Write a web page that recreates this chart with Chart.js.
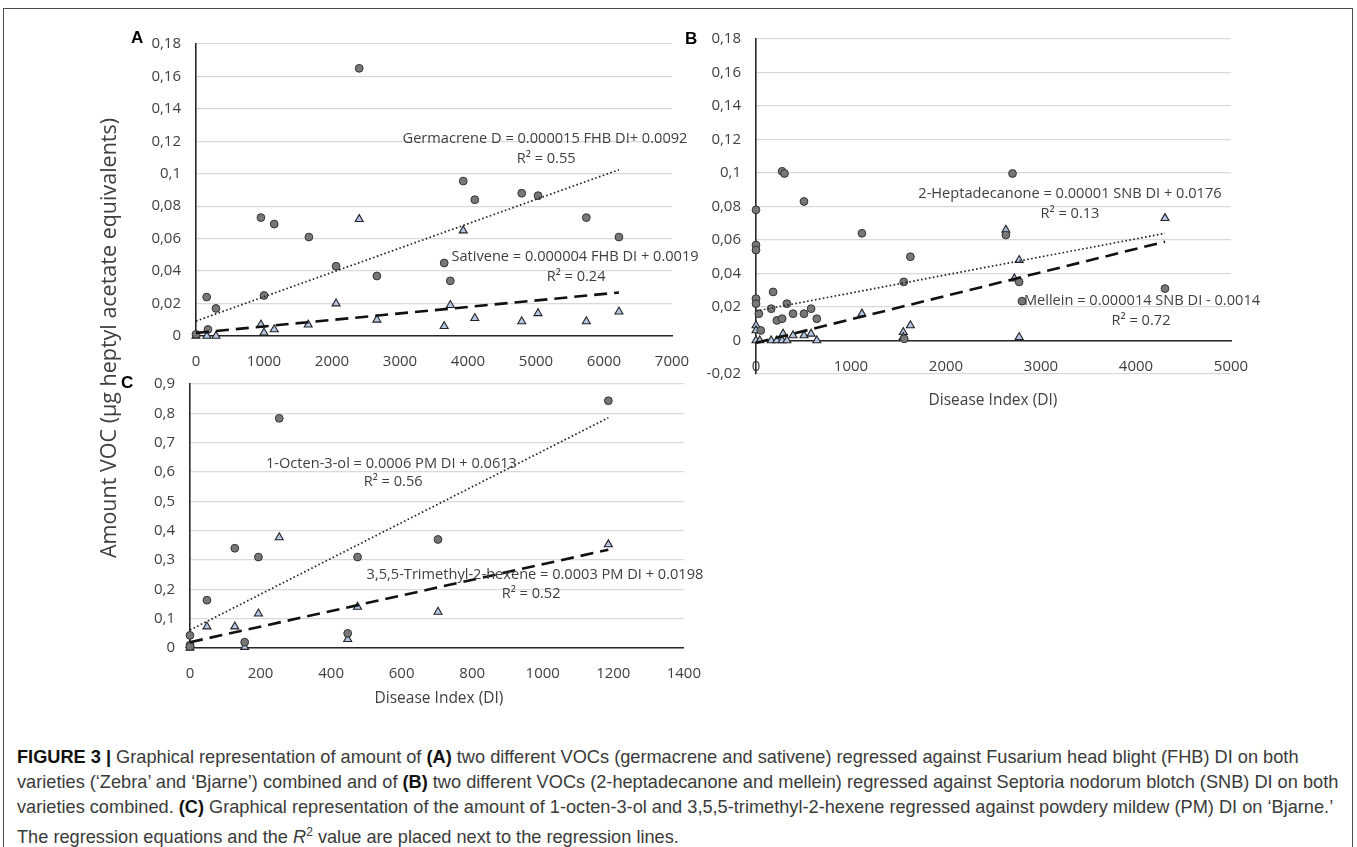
<!DOCTYPE html>
<html>
<head>
<meta charset="utf-8">
<script src="https://cdn.jsdelivr.net/npm/chart.js@4.4.0/dist/chart.umd.min.js"></script>
<style>
  body { margin: 0; width: 1357px; height: 847px; background: #fff; position: relative; overflow: hidden; }
  .frame { position: absolute; left: 3px; top: 8px; width: 1350px; height: 845px; border: 1.5px solid #4a4a4a; box-sizing: border-box; }
  canvas { position: absolute; }
  .panel { position: absolute; font: bold 17px "Liberation Sans", Arial, sans-serif; color: #000; line-height: 1; }
  .ytitle { position: absolute; left: 108px; top: 338px; transform: translate(-50%, -50%) rotate(-90deg);
            font: 21.5px "Open Sans", sans-serif; color: #404040; white-space: nowrap; line-height: 1; }
  .xtitle { position: absolute; transform: translate(-50%, -50%); font: 15.5px "Open Sans", sans-serif; color: #404040; white-space: nowrap; line-height: 1; }
  .cap { position: absolute; left: 17px; font: 18.2px "Liberation Sans", Arial, sans-serif; color: #3a3a3a; white-space: nowrap; line-height: 20px; }
  .cap b { color: #111; }
</style>
</head>
<body>
<div class="frame"></div>

<canvas id="chartA" width="600" height="370" style="left:120px; top:20px;"></canvas>
<canvas id="chartB" width="600" height="400" style="left:690px; top:15px;"></canvas>
<canvas id="chartC" width="600" height="330" style="left:110px; top:360px;"></canvas>

<div class="panel" style="left:131px; top:29px;">A</div>
<div class="panel" style="left:685px; top:30px;">B</div>
<div class="panel" style="left:121px; top:374px;">C</div>

<div class="ytitle">Amount VOC (µg heptyl acetate equivalents)</div>
<div class="xtitle" style="left:993px; top:400px;">Disease Index (DI)</div>
<div class="xtitle" style="left:439px; top:698px;">Disease Index (DI)</div>

<div class="cap" style="top:747px;"><b>FIGURE 3 |</b> Graphical representation of amount of <b>(A)</b> two different VOCs (germacrene and sativene) regressed against Fusarium head blight (FHB) DI on both</div>
<div class="cap" style="top:772px;">varieties (‘Zebra’ and ‘Bjarne’) combined and of <b>(B)</b> two different VOCs (2-heptadecanone and mellein) regressed against Septoria nodorum blotch (SNB) DI on both</div>
<div class="cap" style="top:797px;">varieties combined. <b>(C)</b> Graphical representation of the amount of 1-octen-3-ol and 3,5,5-trimethyl-2-hexene regressed against powdery mildew (PM) DI on ‘Bjarne.’</div>
<div class="cap" style="top:822px;">The regression equations and the <i>R</i><sup style="font-size:12px;">2</sup> value are placed next to the regression lines.</div>

<script>
// Panel A - Fusarium head blight (FHB)
const germX = [0, 157, 176, 294, 955, 1000, 1150, 1660, 2060, 2400, 2660, 3650, 3740, 3930, 4100, 4790, 5030, 5740, 6220];
const germY = [0.001, 0.024, 0.004, 0.017, 0.073, 0.025, 0.069, 0.061, 0.043, 0.165, 0.037, 0.045, 0.034, 0.0955, 0.084, 0.088, 0.0865, 0.073, 0.061];
const satX = [0, 160, 294, 955, 1000, 1150, 1650, 2060, 2400, 2660, 3650, 3740, 3930, 4100, 4790, 5030, 5740, 6220];
const satY = [0, 0, 0, 0.007, 0.002, 0.004, 0.007, 0.020, 0.072, 0.010, 0.006, 0.019, 0.065, 0.011, 0.009, 0.014, 0.009, 0.015];
const germTrendX = [0, 6220];
const germTrendY = [0.0092, 0.1025];
const satTrendX = [0, 6220];
const satTrendY = [0.0019, 0.0268];

// Panel B - Septoria nodorum blotch (SNB)
const heptX = [0, 0, 0, 0, 0, 30, 50, 160, 180, 220, 275, 300, 275, 325, 390, 505, 505, 580, 640, 1115, 1555, 1560, 1625, 2630, 2700, 2770, 2800, 4305];
const heptY = [0.078, 0.057, 0.054, 0.025, 0.022, 0.016, 0.006, 0.019, 0.029, 0.012, 0.101, 0.0997, 0.013, 0.022, 0.016, 0.083, 0.016, 0.019, 0.013, 0.064, 0.035, 0.001, 0.050, 0.063, 0.0997, 0.035, 0.0235, 0.031];
const mellX = [0, 0, 0, 40, 160, 220, 275, 325, 285, 390, 505, 580, 640, 1115, 1550, 1550, 1625, 2630, 2770, 2720, 2770, 4305];
const mellY = [0.009, 0.006, 0, 0, 0, 0, 0, 0, 0.004, 0.003, 0.003, 0.004, 0, 0.016, 0.005, 0.002, 0.009, 0.066, 0.048, 0.037, 0.002, 0.073];
const heptTrendX = [0, 4305];
const heptTrendY = [0.0176, 0.064];
const mellTrendX = [0, 4305];
const mellTrendY = [-0.0014, 0.059];

// Panel C - powdery mildew (PM)
const octX = [0, 0, 0, 48, 127, 155, 194, 253, 447, 475, 703, 1186];
const octY = [0.043, 0.01, 0.005, 0.163, 0.34, 0.02, 0.31, 0.783, 0.05, 0.31, 0.37, 0.843];
const triX = [0, 0, 48, 127, 155, 194, 253, 447, 475, 703, 1186];
const triY = [0, 0.01, 0.073, 0.073, 0.003, 0.117, 0.377, 0.03, 0.14, 0.123, 0.353];
const octTrendX = [0, 1186];
const octTrendY = [0.0613, 0.785];
const triTrendX = [0, 1186];
const triTrendY = [0.0198, 0.335];

// axis ranges
const axisA = { xMin: 0, xMax: 7000, xStep: 1000, yMin: 0, yMax: 0.18, yStep: 0.02 };
const axisB = { xMin: 0, xMax: 5000, xStep: 1000, yMin: -0.02, yMax: 0.18, yStep: 0.02 };
const axisC = { xMin: 0, xMax: 1400, xStep: 200, yMin: 0, yMax: 0.9, yStep: 0.1 };

function pts(xs, ys) {
  return xs.map((x, i) => ({ x: x, y: ys[i] }));
}

// regression equation labels, drawn at data coordinates
const eqLabels = {
  id: "eqLabels",
  afterDatasetsDraw(chart, args, opts) {
    const ctx = chart.ctx;
    const xs = chart.scales.x;
    const ys = chart.scales.y;
    ctx.save();
    ctx.font = '14.6px "Open Sans"';
    ctx.fillStyle = "#404040";
    ctx.textAlign = "center";
    ctx.textBaseline = "middle";
    (opts.items || []).forEach((it) => {
      ctx.fillText(it.text, xs.getPixelForValue(it.x), ys.getPixelForValue(it.y));
    });
    ctx.restore();
  },
};

function circles(data) {
  return { data: data, pointStyle: "circle", pointRadius: 3.9, backgroundColor: "#777", borderColor: "#333", borderWidth: 1, showLine: false, clip: false, order: 2 };
}
function triangles(data) {
  return { data: data, pointStyle: "triangle", pointRadius: 4.6, backgroundColor: "#b4c7e7", borderColor: "#222", borderWidth: 1.1, showLine: false, clip: false, order: 3 };
}
function dotted(data) {
  return { data: data, showLine: true, pointRadius: 0, borderColor: "#222", borderWidth: 1.7, borderDash: [1.6, 2.4], fill: false, clip: false, order: 1 };
}
function dashed(data) {
  return { data: data, showLine: true, pointRadius: 0, borderColor: "#111", borderWidth: 2.6, borderDash: [13, 7], fill: false, clip: false, order: 1 };
}

const tickFont = { family: "Open Sans", size: 15 };
function fmt(v) {
  return String(Math.round(v * 100) / 100).replace(".", ",");
}

function makeChart(id, datasets, axis, sizes, labels, xPos) {
  new Chart(document.getElementById(id), {
    type: "scatter",
    data: { datasets: datasets },
    options: {
      responsive: false,
      animation: false,
      layout: { padding: sizes.padding },
      plugins: { legend: { display: false }, tooltip: { enabled: false }, eqLabels: { items: labels } },
      scales: {
        x: {
          type: "linear",
          position: xPos,
          min: axis.xMin,
          max: axis.xMax,
          afterFit: (s) => { s.height = sizes.xHeight; },
          ticks: { stepSize: axis.xStep, color: "#404040", font: tickFont, padding: 9, autoSkip: false, maxRotation: 0, callback: (v) => String(v) },
          grid: { display: false },
          border: { display: true, color: "#262626", width: 1.6 },
        },
        y: {
          min: axis.yMin,
          max: axis.yMax,
          afterFit: (s) => { s.width = sizes.yWidth; },
          ticks: { stepSize: axis.yStep, color: "#404040", font: tickFont, padding: 15, callback: fmt },
          grid: { color: "#d9d9d9", lineWidth: 1.3, drawTicks: false },
          border: { display: true, color: "#262626", width: 1.6 },
        },
      },
    },
    plugins: [eqLabels],
  });
}

makeChart("chartA", [
  dotted(pts(germTrendX, germTrendY)),
  dashed(pts(satTrendX, satTrendY)),
  circles(pts(germX, germY)),
  triangles(pts(satX, satY)),
], axisA, { padding: { top: 17, right: 48, left: 0, bottom: 0 }, yWidth: 76, xHeight: 54 }, [
  { text: "Germacrene D = 0.000015 FHB DI+ 0.0092", x: 5132, y: 0.1213 },
  { text: "R² = 0.55", x: 5150, y: 0.1093 },
  { text: "Sativene = 0.000004 FHB DI + 0.0019", x: 5574, y: 0.0486 },
  { text: "R² = 0.24", x: 5590, y: 0.0366 },
], "bottom");

makeChart("chartB", [
  dotted(pts(heptTrendX, heptTrendY)),
  dashed(pts(mellTrendX, mellTrendY)),
  circles(pts(heptX, heptY)),
  triangles(pts(mellX, mellY)),
], axisB, { padding: { top: 18, right: 59, left: 0, bottom: 41 }, yWidth: 66, xHeight: 40 }, [
  { text: "2-Heptadecanone = 0.00001 SNB DI + 0.0176", x: 3305, y: 0.0874 },
  { text: "R² = 0.13", x: 3305, y: 0.0757 },
  { text: "Mellein = 0.000014 SNB DI - 0.0014", x: 4063, y: 0.0235 },
  { text: "R² = 0.72", x: 4053, y: 0.0117 },
], { y: 0 });

makeChart("chartC", [
  dotted(pts(octTrendX, octTrendY)),
  dashed(pts(triTrendX, triTrendY)),
  circles(pts(octX, octY)),
  triangles(pts(triX, triY)),
], axisC, { padding: { top: 18, right: 21, left: 0, bottom: 0 }, yWidth: 80, xHeight: 42 }, [
  { text: "1-Octen-3-ol = 0.0006 PM DI + 0.0613", x: 571, y: 0.627 },
  { text: "R² = 0.56", x: 576, y: 0.567 },
  { text: "3,5,5-Trimethyl-2-hexene = 0.0003 PM DI + 0.0198", x: 978, y: 0.25 },
  { text: "R² = 0.52", x: 967, y: 0.183 },
], "bottom");
</script>
</body>
</html>
